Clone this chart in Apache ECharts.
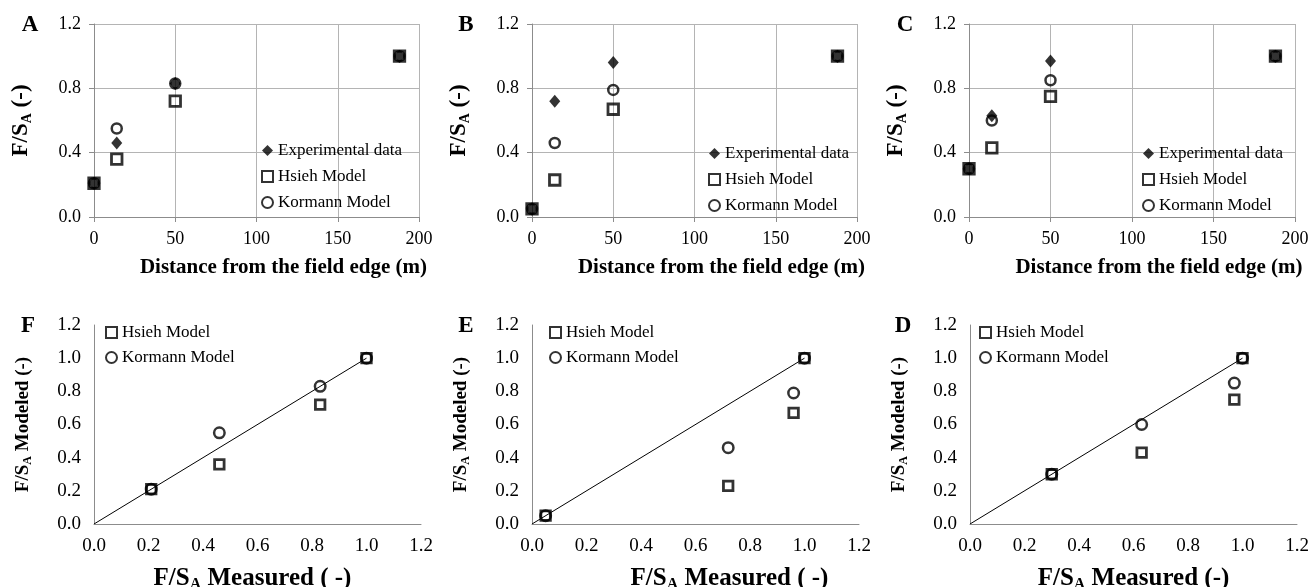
<!DOCTYPE html>
<html>
<head>
<meta charset="utf-8">
<script src="https://cdn.jsdelivr.net/npm/echarts@6/dist/echarts.min.js"></script>
<style>
    html, body {margin: 0; padding: 0; background: #fff;}
    #chart {width: 1311px; height: 587px;}
</style>
</head>
<body>
<div id="chart"></div>
<script>
// distance of the sampling points from the field edge (m)
let distance = [0, 14, 50, 188]

// panel A
let expA = [0.21, 0.46, 0.83, 1.0]
let hsiehA = [0.21, 0.36, 0.72, 1.0]
let kormannA = [0.21, 0.55, 0.83, 1.0]
// panel B
let expB = [0.05, 0.72, 0.96, 1.0]
let hsiehB = [0.05, 0.23, 0.67, 1.0]
let kormannB = [0.05, 0.46, 0.79, 1.0]
// panel C
let expC = [0.30, 0.63, 0.97, 1.0]
let hsiehC = [0.30, 0.43, 0.75, 1.0]
let kormannC = [0.30, 0.60, 0.85, 1.0]

let oneToOne = [[0, 0], [1, 1]]
let distTicks = [0, 200, 50]
let fsTicks = [0, 1.2, 0.4]
let fitTicks = [0, 1.2, 0.2]

let serif = "Liberation Serif"
let grids = [
    {left: 94, top: 24, width: 325, height: 193},
    {left: 532, top: 24, width: 325, height: 193},
    {left: 969, top: 24, width: 326, height: 193},
    {left: 94, top: 325, width: 327, height: 199},
    {left: 532, top: 325, width: 327, height: 199},
    {left: 970, top: 325, width: 327, height: 199}
].map(function (g) {
    // keep the plot boxes where they are, even when titles reach the page edge
    return Object.assign({outerBoundsMode: "none", containLabel: false}, g)
})

let makeRich = function (size) {
    return {
        a: {fontFamily: serif, fontSize: size, fontWeight: "bold", color: "#000", lineHeight: size + 3, verticalAlign: "middle"},
        s: {fontFamily: serif, fontSize: Math.round(size * 0.62), fontWeight: "bold", color: "#000", lineHeight: 6, verticalAlign: "bottom"}
    }
}

let pair = function (xs, ys) {
    return xs.map(function (x, i) {
        return [x, ys[i]]
    })
}

let squareStyle = {color: "rgba(0,0,0,0)", borderColor: "#000", borderWidth: 2.8}
let circleStyle = {color: "rgba(0,0,0,0)", borderColor: "#000", borderWidth: 2.5}

let topPanel = function (idx, exp, hsieh, kormann) {
    return [{
        name: "Experimental data", type: "scatter", xAxisIndex: idx, yAxisIndex: idx,
        symbol: "diamond", symbolSize: [11, 13], itemStyle: {color: "#000"}, z: 3,
        data: pair(distance, exp)
    }, {
        name: "Hsieh Model", type: "scatter", xAxisIndex: idx, yAxisIndex: idx,
        symbol: "rect", symbolSize: 10.5, itemStyle: squareStyle, z: 4,
        data: pair(distance, hsieh)
    }, {
        name: "Kormann Model", type: "scatter", xAxisIndex: idx, yAxisIndex: idx,
        symbol: "circle", symbolSize: 10, itemStyle: circleStyle, z: 5,
        data: pair(distance, kormann)
    }]
}

let bottomPanel = function (idx, exp, hsieh, kormann) {
    return [{
        type: "line", xAxisIndex: idx, yAxisIndex: idx, symbol: "none", silent: true,
        lineStyle: {color: "#000", width: 1}, data: oneToOne, z: 2
    }, {
        name: "Hsieh Model", type: "scatter", xAxisIndex: idx, yAxisIndex: idx,
        symbol: "rect", symbolSize: 9.5, itemStyle: squareStyle, z: 4,
        data: pair(exp, hsieh)
    }, {
        name: "Kormann Model", type: "scatter", xAxisIndex: idx, yAxisIndex: idx,
        symbol: "circle", symbolSize: 10.5, itemStyle: circleStyle, z: 5,
        data: pair(exp, kormann)
    }]
}

let labelStyle = function (size) {
    return {fontFamily: serif, fontSize: size, color: "#000"}
}
let fmt = function (v) {
    return v.toFixed(1)
}
let grayLine = {lineStyle: {color: "#8c8c8c", width: 1}}

let xAxes = [], yAxes = []
for (let i = 0; i < 3; i++) {
    xAxes.push({
        type: "value", gridIndex: i, min: distTicks[0], max: distTicks[1], interval: distTicks[2],
        axisLine: grayLine, axisTick: {show: true, length: 5, lineStyle: {color: "#8c8c8c"}},
        splitLine: {show: true, lineStyle: {color: "#b4b4b4"}},
        axisLabel: Object.assign({margin: 13}, labelStyle(18)),
        name: "Distance from the field edge (m)", nameLocation: "middle", nameGap: 40,
        nameTextStyle: {fontFamily: serif, fontSize: 21, fontWeight: "bold", color: "#000", padding: [0, 0, 0, 54]}
    })
    yAxes.push({
        type: "value", gridIndex: i, min: fsTicks[0], max: fsTicks[1], interval: fsTicks[2],
        axisLine: {show: true, lineStyle: {color: "#8c8c8c"}},
        axisTick: {show: true, length: 5, lineStyle: {color: "#8c8c8c"}},
        splitLine: {show: true, lineStyle: {color: "#b4b4b4"}},
        axisLabel: Object.assign({margin: 13, formatter: fmt}, labelStyle(18)),
        name: "{a|F/S}{s|A}{a| (-)}", nameLocation: "middle", nameGap: 60, nameRotate: 90,
        nameTextStyle: {rich: makeRich(23)}
    })
}
let measuredNames = ["{a|F/S}{s|A}{a| Measured ( -)}", "{a|F/S}{s|A}{a| Measured ( -)}", "{a|F/S}{s|A}{a| Measured (-)}"]
let measuredPad = [[0, 10, 0, 0], [0, 0, 0, 68], [0, 0, 0, 0]]
for (let i = 3; i < 6; i++) {
    xAxes.push({
        type: "value", gridIndex: i, min: fitTicks[0], max: fitTicks[1], interval: fitTicks[2],
        axisLine: grayLine, axisTick: {show: false}, splitLine: {show: false},
        axisLabel: Object.assign({margin: 13, formatter: fmt}, labelStyle(19)),
        name: measuredNames[i - 3], nameLocation: "middle", nameGap: 41,
        nameTextStyle: {rich: makeRich(25), padding: measuredPad[i - 3]}
    })
    yAxes.push({
        type: "value", gridIndex: i, min: fitTicks[0], max: fitTicks[1], interval: fitTicks[2],
        axisLine: {show: true, lineStyle: {color: "#8c8c8c"}}, axisTick: {show: false}, splitLine: {show: false},
        axisLabel: Object.assign({margin: 13, formatter: fmt}, labelStyle(19)),
        name: "{a|F/S}{s|A}{a| Modeled (-)}", nameLocation: "middle", nameGap: 60, nameRotate: 90,
        nameTextStyle: {rich: makeRich(19)}
    })
}

let legendText = {fontFamily: serif, fontSize: 17, color: "#000"}
let topLegend = function (left, top) {
    return {
        orient: "vertical", left: left, top: top, itemWidth: 11, itemHeight: 11, itemGap: 9,
        textStyle: legendText, selectedMode: false,
        data: ["Experimental data", "Hsieh Model", "Kormann Model"]
    }
}
let bottomLegend = function (left, top) {
    return {
        orient: "vertical", left: left, top: top, itemWidth: 11, itemHeight: 11, itemGap: 8,
        textStyle: legendText, selectedMode: false,
        data: ["Hsieh Model", "Kormann Model"]
    }
}

let letters = [["A", 30, 25], ["B", 466, 25], ["C", 905, 25], ["F", 28, 326], ["E", 466, 326], ["D", 903, 326]]

let option = {
    backgroundColor: "#fff",
    animation: false,
    grid: grids,
    xAxis: xAxes,
    yAxis: yAxes,
    legend: [topLegend(256, 137), topLegend(703, 140), topLegend(1137, 140),
        bottomLegend(100, 319), bottomLegend(544, 319), bottomLegend(974, 319)],
    graphic: letters.map(function (l) {
        return {
            type: "text", x: l[1], y: l[2],
            style: {text: l[0], fontFamily: serif, fontSize: 23, fontWeight: "bold", fill: "#000", align: "center", verticalAlign: "middle"}
        }
    }),
    series: [].concat(
        topPanel(0, expA, hsiehA, kormannA),
        topPanel(1, expB, hsiehB, kormannB),
        topPanel(2, expC, hsiehC, kormannC),
        bottomPanel(3, expA, hsiehA, kormannA),
        bottomPanel(4, expB, hsiehB, kormannB),
        bottomPanel(5, expC, hsiehC, kormannC)
    )
}

let myChart = echarts.init(document.getElementById("chart"))
myChart.setOption(option)
</script>
</body>
</html>
